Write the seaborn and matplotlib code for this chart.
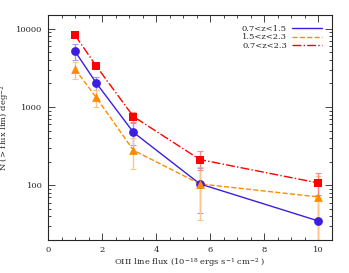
import numpy as np
import pandas as pd
import matplotlib
matplotlib.use("Agg")
import matplotlib.pyplot as plt
import matplotlib.ticker as mticker
import seaborn as sns

# flux limits (1e-18 erg/s/cm^2)
flux = [1.0, 1.78, 3.16, 5.62, 10.0]

# cumulative counts per redshift bin
n_low = [5150, 2040, 474, 104, 35]        # 0.7<z<1.5
err_low = [1200, 380, 150, 60, 40]
n_high = [3050, 1330, 280, 104, 71]       # 1.5<z<2.3
err_high = [750, 330, 120, 68, 60]
n_all = [8300, 3360, 755, 213, 107]       # 0.7<z<2.3
err_all = [400, 250, 120, 58, 38]

labels = ["0.7<z<1.5", "1.5<z<2.3", "0.7<z<2.3"]

sns.set_style("ticks")
plt.rcParams["font.family"] = ["DejaVu Serif"]
plt.rcParams["font.size"] = 6
plt.rcParams["mathtext.fontset"] = "dejavuserif"

fig = plt.figure(figsize=(3.49, 2.73), dpi=100)
ax = fig.add_axes([0.1375, 0.121, 0.8135, 0.824])

series = [
    (n_low, err_low, labels[0], "#3c1ee0", "o", "-", "#a898f0"),
    (n_high, err_high, labels[1], "#ff8c00", "^", "--", "#ffc48a"),
    (n_all, err_all, labels[2], "#ff0000", "s", "-.", "#ff8a8a"),
]

for vals, errs, lab, col, mk, ls, ecol in series:
    df = pd.DataFrame({"flux": flux, "n": vals})
    ax.errorbar(flux, vals, yerr=errs, fmt="none", ecolor=ecol, elinewidth=1.0,
                capsize=2, capthick=0.8, zorder=1)
    sns.lineplot(data=df, x="flux", y="n", ax=ax, color=col, linestyle=ls,
                 linewidth=1.0, label=lab, zorder=2)
    sns.scatterplot(data=df, x="flux", y="n", ax=ax, color=col, marker=mk,
                    s=40, edgecolor=col, linewidth=0, zorder=3, legend=False)

ax.set_yscale("log")
ax.set_xlim(0, 10.5)
ax.set_ylim(20, 15000)
ax.yaxis.set_major_formatter(mticker.FuncFormatter(lambda v, p: f"{v:.0f}"))
ax.yaxis.set_minor_formatter(mticker.NullFormatter())
ax.xaxis.set_major_locator(mticker.MultipleLocator(2))
ax.xaxis.set_minor_locator(mticker.MultipleLocator(0.5))
ax.tick_params(which="both", direction="in", top=True, right=True, labelsize=6)
ax.tick_params(which="major", length=5, width=0.6, pad=4)
ax.tick_params(which="minor", length=2.5, width=0.6)
for sp in ax.spines.values():
    sp.set_linewidth(0.8)

ax.set_xlabel("OIII line flux (10$^{-18}$ ergs s$^{-1}$ cm$^{-2}$ )", fontsize=6, labelpad=2)
ax.set_ylabel("N (> flux lim) deg$^{-2}$", fontsize=6)
ax.yaxis.set_label_coords(-0.125, 0.5)

ax.legend(loc="upper right", frameon=False, markerfirst=False, fontsize=6,
          handlelength=3.6, labelspacing=0.05, borderaxespad=0.8, handletextpad=0.6)

fig.savefig("out.png", dpi=100)
